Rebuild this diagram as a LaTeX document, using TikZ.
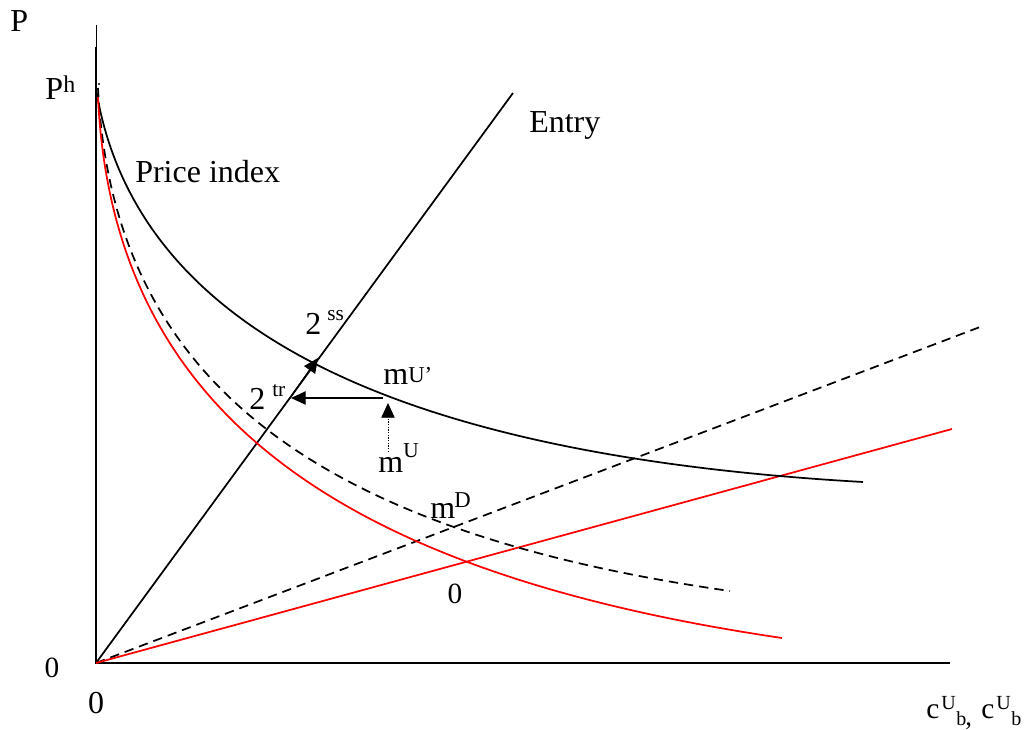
\documentclass[tikz,border=0pt]{standalone}
\usepackage{fontspec}
\setmainfont{Liberation Serif}
\usetikzlibrary{arrows.meta}
\begin{document}
\begin{tikzpicture}[x=0.75pt,y=-0.75pt,
  lbl/.style={inner sep=0pt, anchor=base west, font=\fontsize{24}{28}\selectfont},
  sm/.style={inner sep=0pt, anchor=base west, font=\fontsize{16}{19}\selectfont},
  axis/.style={line width=1.5pt},
  curve/.style={line width=1.3pt},
  dsh/.style={line width=1.3pt, dash pattern=on 7pt off 4.5pt},
  redc/.style={line width=1.3pt, red},
  tri/.style={-{Triangle[length=11pt,width=10pt]}}
]
\useasboundingbox (0,0) rectangle (1024,730);
% axes
\coordinate (O) at (96,663);
\coordinate (ytop) at (96,25);
\coordinate (yth) at (96,47);
\coordinate (xend) at (950,663);
\draw[line width=0.6pt] (ytop) -- (yth);
\draw[axis] (yth) -- (O) -- (xend);
% straight lines
\coordinate (E) at (513,93);
\coordinate (D) at (980,327);
\coordinate (R) at (952,429);
\draw[curve] (O) -- (E);
\draw[dsh] (O) -- (D);
\draw[redc] (O) -- (R);
% price index (solid)
\coordinate (PI0) at (96,89);
\coordinate (PI1) at (863,482);
\draw[curve] (PI0) .. controls (130,298) and (335,452) .. (PI1);
% dashed curve
\coordinate (DC0) at (98,88);
\coordinate (DC1) at (730,591);
\fill (99,84) circle (0.8pt);
\draw[dsh] (DC0) .. controls (112,370) and (300,530) .. (DC1);
% red curve
\coordinate (RC0) at (98,97);
\coordinate (RC1) at (782,638);
\draw[redc] (RC0) .. controls (112,400) and (320,570) .. (RC1);
% arrows
\coordinate (mUp) at (383,398);
\coordinate (tr) at (291,398);
\coordinate (mUb) at (388,452);
\coordinate (mUt) at (388,403);
\coordinate (E1) at (290,398);
\coordinate (E2) at (318,358);
\draw[line width=1pt, tri] (mUp) -- (tr);
\draw[line width=0.6pt, dash pattern=on 1pt off 1pt, tri] (mUb) -- (mUt);
\draw[line width=1pt, tri] (E1) -- (E2);
% labels
\node[lbl] (P) at (10,32) {P};
\node[lbl] (Ph) at (45,100) {P};
\node[sm, font=\fontsize{18}{21}\selectfont] (Phs) at (63,93) {h};
\node[lbl] (pi) at (135,183) {Price index};
\node[lbl] (entry) at (529,133) {Entry};
\node[lbl] (ss) at (305,335) {2};
\node[sm] (sss) at (327,321) {ss};
\node[lbl] (tr2) at (249,410) {2};
\node[sm] (trs) at (272,397) {tr};
\node[lbl] (mu1) at (383,385) {m};
\node[sm, font=\fontsize{17}{20}\selectfont] (mu1s) at (408,383) {U’};
\node[lbl] (mu2) at (378,473) {m};
\node[sm] (mu2s) at (403,458) {U};
\node[lbl] (md) at (430,518) {m};
\node[sm, font=\fontsize{17}{20}\selectfont] (mds) at (454,508) {D};
\node[lbl, anchor=base, font=\fontsize{22}{26}\selectfont] (z1) at (455,603) {0};
\node[lbl, anchor=base, font=\fontsize{22}{26}\selectfont] (z2) at (52,677) {0};
\node[lbl, anchor=base] (z3) at (96,713) {0};
\node[lbl, font=\fontsize{22}{26}\selectfont] (c1) at (926,718) {c};
\node[sm, font=\fontsize{15}{18}\selectfont] (c1u) at (941,709) {U};
\node[sm, font=\fontsize{15}{18}\selectfont] (c1b) at (956,725) {b};
\node[lbl, font=\fontsize{20}{24}\selectfont] (comma) at (965,725) {,};
\node[lbl, font=\fontsize{22}{26}\selectfont] (c2) at (981,718) {c};
\node[sm, font=\fontsize{15}{18}\selectfont] (c2u) at (996,709) {U};
\node[sm, font=\fontsize{15}{18}\selectfont] (c2b) at (1011,725) {b};
\end{tikzpicture}
\end{document}
